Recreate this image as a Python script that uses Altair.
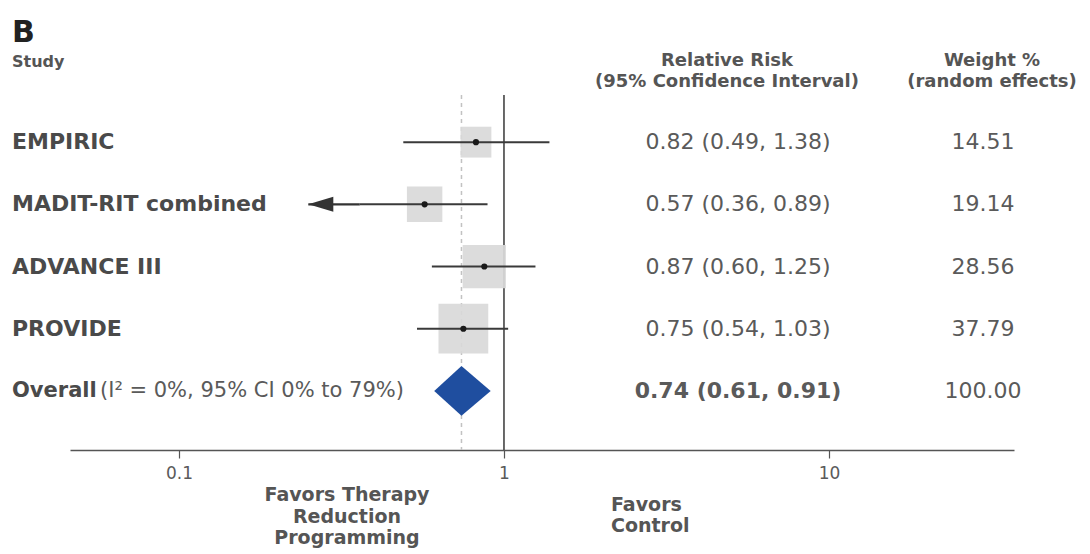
import altair as alt
import pandas as pd

# Individual trials
studies = ["EMPIRIC", "MADIT-RIT combined", "ADVANCE III", "PROVIDE"]
rr = [0.82, 0.57, 0.87, 0.75]
ci_low = [0.49, 0.36, 0.60, 0.54]
ci_high = [1.38, 0.89, 1.25, 1.03]
weights = [14.51, 19.14, 28.56, 37.79]

# Pooled random-effects estimate
overall_label = "Overall"
overall_het = "(I² = 0%, 95% CI 0% to 79%)"
overall_rr = 0.74
overall_low = 0.61
overall_high = 0.91
overall_weight = 100.00

# MADIT-RIT interval runs off to the left, ending in an arrow at this value
madit_arrow_to = 0.25

x_ticks = [0.1, 1, 10]

FONT = "DejaVu Sans"
TEXT = "#4a4a4a"
NUM = "#5a5a5a"

n = len(studies)
trials = pd.DataFrame({
    "study": studies,
    "row": list(range(n)),
    "rr": rr,
    "lo": ci_low,
    "hi": ci_high,
    "weight": weights,
})
trials["rr_text"] = [f"{r:.2f} ({l:.2f}, {h:.2f})" for r, l, h in zip(rr, ci_low, ci_high)]
trials["w_text"] = [f"{w:.2f}" for w in weights]

overall_row = n
overall = pd.DataFrame({
    "row": [overall_row],
    "rr_text": [f"{overall_rr:.2f} ({overall_low:.2f}, {overall_high:.2f})"],
    "w_text": [f"{overall_weight:.2f}"],
    "label": [overall_label],
    "het": [overall_het],
})

# Diamond outline for the pooled estimate: tips at the CI bounds, full height at the estimate
half = 0.4
diamond = pd.DataFrame({
    "x": [overall_low, overall_rr, overall_high],
    "top": [overall_row, overall_row - half, overall_row],
    "bottom": [overall_row, overall_row + half, overall_row],
})

madit = trials[trials["study"] == "MADIT-RIT combined"].copy()
madit["tip"] = madit_arrow_to

xscale = alt.Scale(type="log", domain=[0.0462, 37.1], nice=False)
yscale = alt.Scale(domain=[-0.758, 4.95], reverse=True, nice=False, zero=False)

xaxis = alt.Axis(values=x_ticks, format="~g", title=None, grid=False,
                 domainColor="#555", domainWidth=1.5, tickColor="#555", tickWidth=1.2,
                 tickSize=8, labelFont=FONT, labelFontSize=17, labelColor=NUM,
                 labelPadding=7, labelFlush=False)

X = lambda f: alt.X(f, scale=xscale, axis=xaxis)
Y = lambda f: alt.Y(f, scale=yscale, axis=None)

base = alt.Chart(trials)

dash_rule = alt.Chart(pd.DataFrame({"x": [overall_rr]})).mark_rule(
    color="#c2c2c2", strokeWidth=1.5, strokeDash=[4, 4]
).encode(x=X("x:Q"))

null_rule = alt.Chart(pd.DataFrame({"x": [1]})).mark_rule(
    color="#444", strokeWidth=1.6
).encode(x=X("x:Q"))

boxes = base.mark_square(color="#d9d9d9", opacity=0.92).encode(
    x=X("rr:Q"), y=Y("row:Q"),
    size=alt.Size("weight:Q", scale=alt.Scale(domain=[0, 100], range=[0, 6560]), legend=None),
)

ci = base.mark_rule(color="#3a3a3a", strokeWidth=2).encode(
    x=X("lo:Q"), x2="hi:Q", y=Y("row:Q")
)

arrow_shaft = alt.Chart(madit).mark_rule(color="#333", strokeWidth=2.4).encode(
    x=X("tip:Q"), x2="lo:Q", y=Y("row:Q")
)
arrow_head = alt.Chart(madit).mark_point(
    shape="M0,0L1,-0.3L1,0.3Z", filled=True, color="#333", opacity=1, size=2500
).encode(x=X("tip:Q"), y=Y("row:Q"))

dots = base.mark_circle(color="#1a1a1a", opacity=1, size=38).encode(
    x=X("rr:Q"), y=Y("row:Q")
)

diamond_mark = alt.Chart(diamond).mark_area(
    color="#1f4e9f", orient="vertical", opacity=1
).encode(x=X("x:Q"), y=Y("top:Q"), y2="bottom:Q")

study_text = base.mark_text(
    align="left", baseline="middle", font=FONT, fontSize=22, fontWeight="bold", color=TEXT
).encode(x=alt.value(-58), y=Y("row:Q"), text="study:N")

rr_col = base.mark_text(
    align="center", baseline="middle", font=FONT, fontSize=22, color=NUM
).encode(x=alt.value(668), y=Y("row:Q"), text="rr_text:N")

w_col = base.mark_text(
    align="center", baseline="middle", font=FONT, fontSize=22, color=NUM
).encode(x=alt.value(913), y=Y("row:Q"), text="w_text:N")

ov = alt.Chart(overall)
ov_label = ov.mark_text(
    align="left", baseline="middle", font=FONT, fontSize=21, fontWeight="bold", color=TEXT
).encode(x=alt.value(-58), y=Y("row:Q"), text="label:N")
ov_het = ov.mark_text(
    align="left", baseline="middle", font=FONT, fontSize=21, color=NUM
).encode(x=alt.value(30), y=Y("row:Q"), text="het:N")
ov_rr = ov.mark_text(
    align="center", baseline="middle", font=FONT, fontSize=22, fontWeight="bold", color=NUM
).encode(x=alt.value(668), y=Y("row:Q"), text="rr_text:N")
ov_w = ov.mark_text(
    align="center", baseline="middle", font=FONT, fontSize=22, color=NUM
).encode(x=alt.value(913), y=Y("row:Q"), text="w_text:N")


def note(txt, x, y, size, weight="bold", align="center", color=TEXT, lh=None):
    props = dict(align=align, baseline="middle", font=FONT, fontSize=size,
                 fontWeight=weight, color=color, lineBreak="\n")
    if lh:
        props["lineHeight"] = lh
    return alt.Chart(pd.DataFrame({"t": [txt]})).mark_text(**props).encode(
        x=alt.value(x), y=alt.value(y), text="t:N"
    )


panel = note("B", -58, -62, 30, color="#222", align="left")
study_head = note("Study", -58, -33, 16, align="left", color="#555")
rr_head = note("Relative Risk\n(95% Confidence Interval)", 657, -34, 18, lh=21, color="#555")
w_head = note("Weight %\n(random effects)", 922, -34, 18, lh=21, color="#555")
favors_tx = note("Favors Therapy\nReduction\nProgramming", 277, 400, 19, lh=21.5, color="#555")
favors_ctl = note("Favors\nControl", 541, 410, 19, align="left", lh=21, color="#555")

chart = alt.layer(
    dash_rule, null_rule, boxes, ci, arrow_shaft, arrow_head, dots, diamond_mark,
    study_text, rr_col, w_col, ov_label, ov_het, ov_rr, ov_w,
    panel, study_head, rr_head, w_head, favors_tx, favors_ctl,
).properties(
    width=944, height=355,
    padding={"left": 70, "top": 95, "right": 76, "bottom": 104},
    autosize=alt.AutoSizeParams(type="none"),
    background="white",
).configure_view(stroke=None)

chart.save("out.html", embed_options={"renderer": "svg", "actions": False})
